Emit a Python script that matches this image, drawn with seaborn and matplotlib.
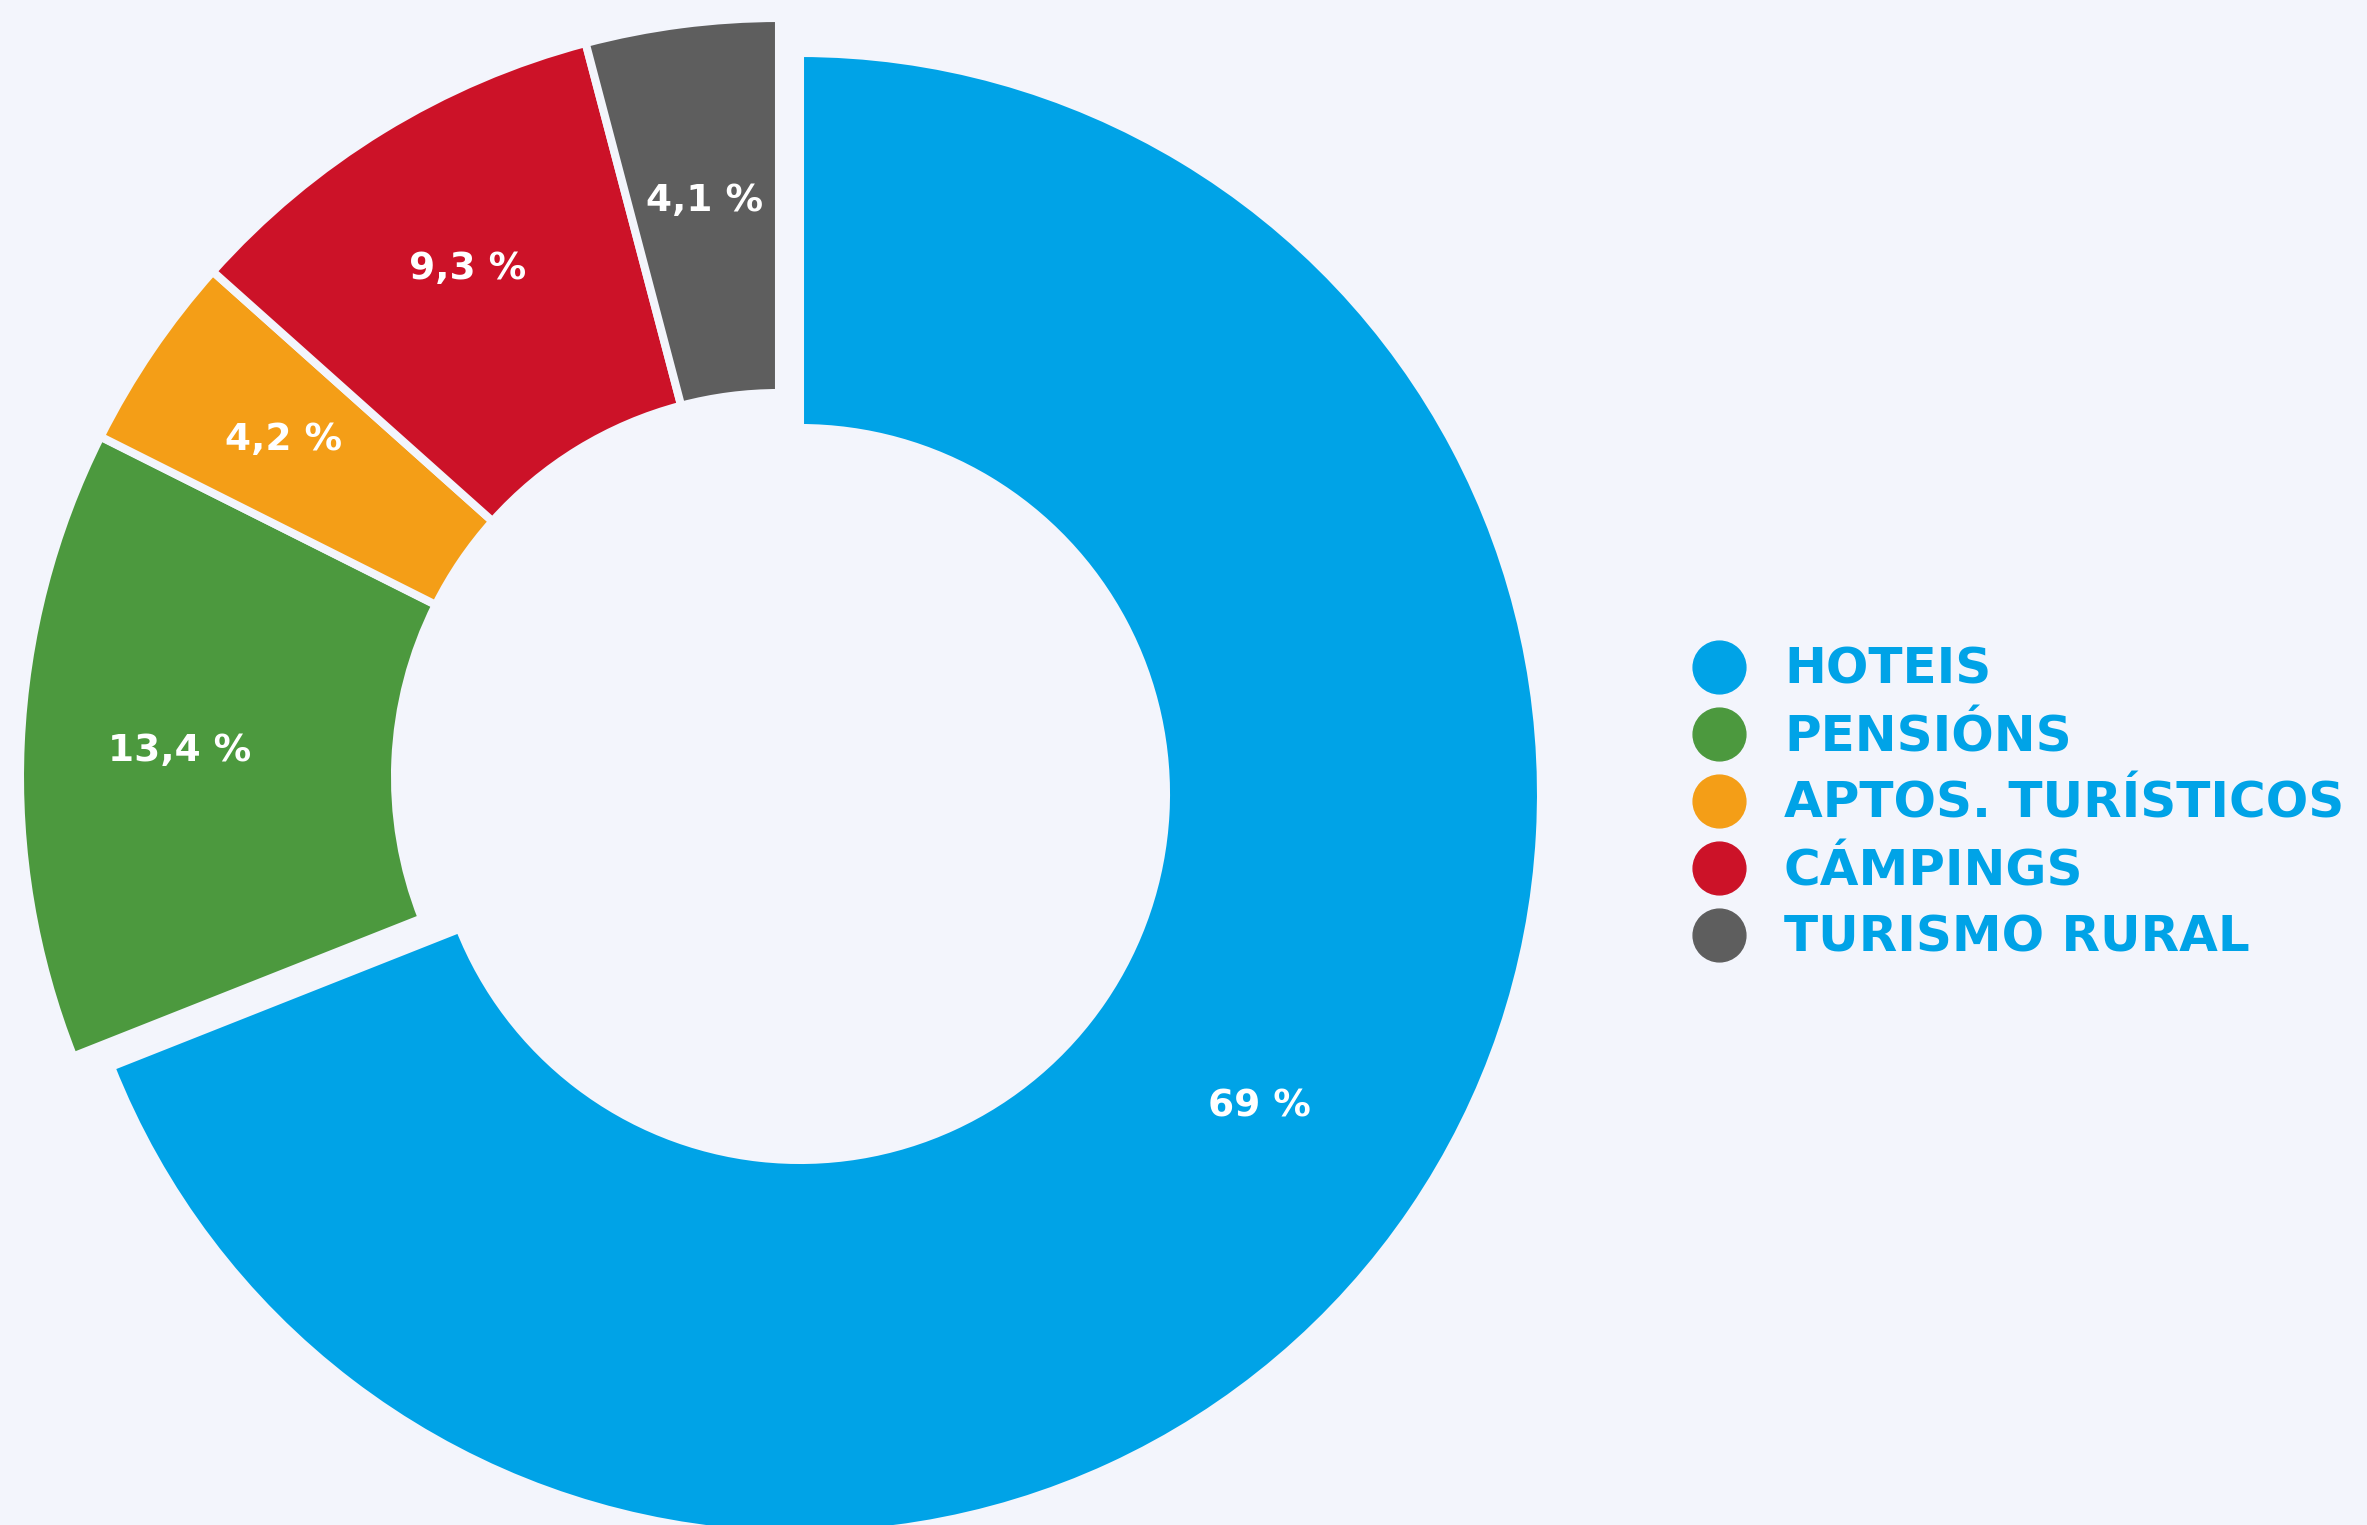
import matplotlib
matplotlib.use('Agg')
import matplotlib.pyplot as plt
from matplotlib.lines import Line2D
import seaborn as sns
import numpy as np

# Data
categories = ['HOTEIS', 'PENSIÓNS', 'APTOS. TURÍSTICOS', 'CÁMPINGS', 'TURISMO RURAL']
shares = [69, 13.4, 4.2, 9.3, 4.1]
colors = ['#00A3E7', '#4C993E', '#F49E17', '#CC1228', '#5E5E5E']

bg = '#F3F5FC'
text_blue = '#00A3E7'

sns.set_theme(style='white', rc={'figure.facecolor': bg, 'axes.facecolor': bg})
plt.rcParams['font.family'] = ['DejaVu Sans']

W, H = 2367, 1525
fig = plt.figure(figsize=(W / 100, H / 100), dpi=100)
ax = fig.add_axes([0, 0, 1, 1])

# Ring geometry in pixel units (y measured from bottom)
center = (779, 748)
radius = 759
ring = 375

wedges, _ = ax.pie(shares, colors=colors, startangle=90, counterclock=False,
                   center=center, radius=radius,
                   wedgeprops=dict(width=ring, edgecolor=bg, linewidth=5.8))

# Hotels slice sits a little apart and slightly smaller
wedges[0].set_center((800, 731))
wedges[0].set_radius(741)
wedges[0].set_width(ring)

def pct_label(v):
    if float(v).is_integer():
        return f'{int(v)} %'
    return f'{v:.1f}'.replace('.', ',') + ' %'

# where each percentage sits, as a fraction of the wedge radius
label_r = [0.75, 0.79, 0.79, 0.785, 0.765]

for w, v, fr in zip(wedges, shares, label_r):
    ang = np.deg2rad((w.theta1 + w.theta2) / 2)
    cx, cy = w.center
    r = w.r * fr
    ax.text(cx + r * np.cos(ang), cy + r * np.sin(ang), pct_label(v),
            ha='center', va='center', color='white', fontsize=27,
            fontweight='bold')

ax.set_xlim(0, W)
ax.set_ylim(0, H)
ax.set_aspect('equal')
ax.axis('off')

# Legend
handles = [Line2D([0], [0], marker='o', linestyle='none', markersize=38,
                  markerfacecolor=c, markeredgecolor=c) for c in colors]
leg = ax.legend(handles, categories, loc='center left',
                bbox_to_anchor=(1694 / W, 1 - 804 / H),
                bbox_transform=fig.transFigure, frameon=False,
                labelcolor=text_blue,
                prop={'weight': 'bold', 'size': 36},
                handlelength=1.0, handletextpad=0.8, labelspacing=0.38,
                borderpad=0, borderaxespad=0)

fig.savefig('out.png', dpi=100, facecolor=bg)
